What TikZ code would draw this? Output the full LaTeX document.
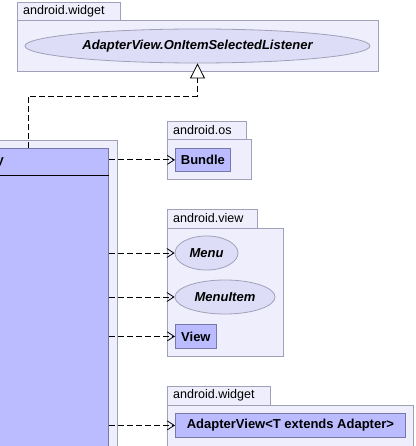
\documentclass[tikz,border=0pt]{standalone}
\usepackage{fontspec}
\setmainfont{Liberation Sans}
\usetikzlibrary{arrows.meta, shapes.geometric, positioning}
\definecolor{pkgfill}{HTML}{EEEEFC}
\definecolor{pkgline}{HTML}{A0A0B8}
\definecolor{clsfill}{HTML}{BBBBFF}
\definecolor{clsline}{HTML}{7878A8}
\definecolor{ifcfill}{HTML}{DDDDF8}
\begin{document}
\begin{tikzpicture}[x=1pt,y=-1pt,
	pkg/.style={draw=pkgline, fill=pkgfill, line width=0.8pt},
	pkgname/.style={anchor=west, inner sep=0pt, font=\fontsize{12.5}{14}\selectfont},
	classbox/.style={draw=clsline, fill=clsfill, line width=0.8pt, inner sep=0pt, font=\fontsize{13}{15}\selectfont\bfseries},
	iface/.style={ellipse, draw=pkgline, fill=ifcfill, line width=0.8pt, inner sep=0pt, font=\fontsize{13}{15}\selectfont\bfseries\itshape},
	uses/.style={dash pattern=on 6pt off 3pt, line width=0.8pt, -{Straight Barb[length=7pt,width=9pt]}},
	realize/.style={dash pattern=on 6pt off 3pt, line width=0.8pt, -{Triangle[open,length=15pt,width=15pt,fill=white]}}]
	\useasboundingbox (0,0) rectangle (415,446);
	% android.widget (top)
	\draw[pkg] (17,2) rectangle (120,20);
	\draw[pkg] (17,20) rectangle (378,71);
	\node[pkgname] (pkgwidget) at (23,11) {android.widget};
	\node[iface, minimum width=345pt, minimum height=34pt] (listener) at (197.5,46) {AdapterView.OnItemSelectedListener};
	% class itself
	\draw[pkg] (-10,140) rectangle (117,460);
	\node[classbox, minimum width=140pt, minimum height=320pt, anchor=north east] (main) at (109,148) {};
	\draw[line width=0.8pt] (main.west |- 0,175) -- (main.east |- 0,175);
	\node[anchor=base east, inner sep=0pt, font=\fontsize{13}{15}\selectfont\bfseries] (mainname) at (4,165) {y};
	% android.os
	\draw[pkg] (167,121) rectangle (246,139);
	\draw[pkg] (167,139) rectangle (251,179);
	\node[pkgname] (pkgos) at (173,130) {android.os};
	\node[classbox, minimum width=55pt, minimum height=23pt, anchor=north west] (bundle) at (175,148) {Bundle};
	% android.view
	\draw[pkg] (167,209) rectangle (257,228);
	\draw[pkg] (167,228) rectangle (283,356);
	\node[pkgname] (pkgview) at (173,218.5) {android.view};
	\node[iface, minimum width=63pt, minimum height=34pt] (menu) at (206.5,253) {Menu};
	\node[iface, minimum width=100pt, minimum height=34pt] (menuitem) at (225,297) {MenuItem};
	\node[classbox, minimum width=41pt, minimum height=24pt, anchor=north west] (view) at (175,324) {View};
	% android.widget (bottom)
	\draw[pkg] (167,386) rectangle (270,405);
	\draw[pkg] (167,405) rectangle (413,460);
	\node[pkgname] (pkgwidget2) at (173,395.5) {android.widget};
	\node[classbox, minimum width=230pt, minimum height=24pt, anchor=north west] (adapter) at (175,413) {AdapterView<T extends Adapter>};
	% dependencies
	\draw[uses] (main.east |- bundle.west) -- (bundle.west);
	\draw[uses] (main.east |- menu.west) -- (menu.west);
	\draw[uses] (main.east |- menuitem.west) -- (menuitem.west);
	\draw[uses] (main.east |- view.west) -- (view.west);
	\draw[uses] (main.east |- adapter.west) -- (adapter.west);
	% realization
	\coordinate (turn) at (28,96);
	\draw[realize] (main.north -| turn) -- (turn) -| (listener.south);
\end{tikzpicture}
\end{document}
